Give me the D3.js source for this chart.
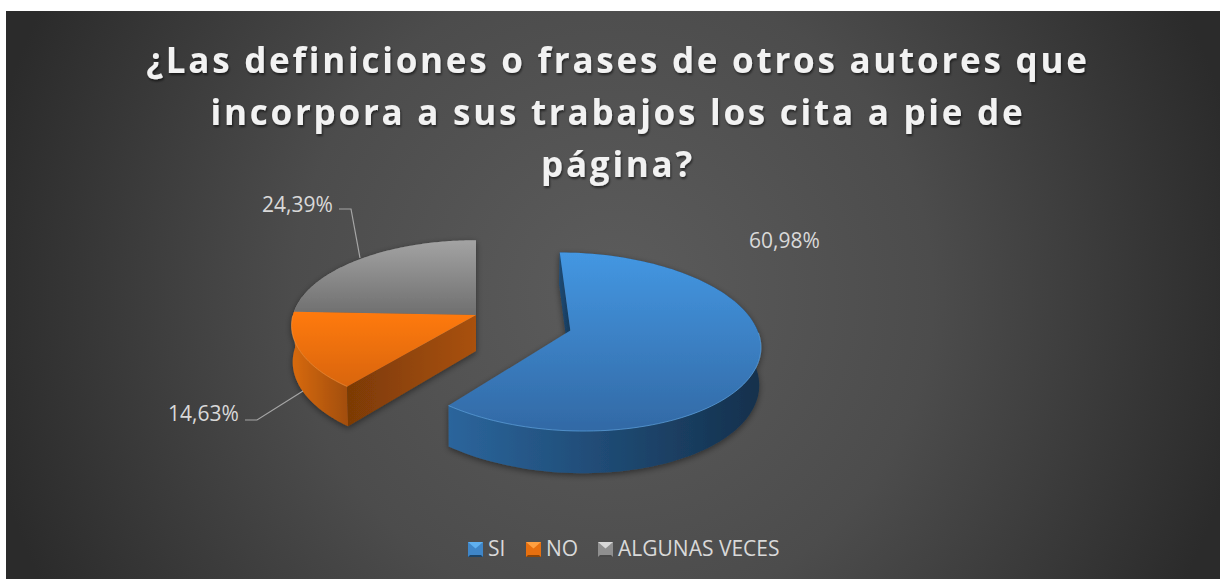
<!DOCTYPE html>
<html>
<head>
<meta charset="utf-8">
<script src="https://cdn.jsdelivr.net/npm/d3@7"></script>
<style>
  html, body { margin: 0; padding: 0; background: #fff; }
  svg { display: block; }
  text { font-family: "Open Sans", sans-serif; }
</style>
</head>
<body>
<svg id="chart"></svg>
<script>
const categories = ['SI', 'NO', 'ALGUNAS VECES'];
const values = [60.98, 14.63, 24.39];
const valueLabels = ['60,98%', '14,63%', '24,39%'];
const titleLines = [
  '¿Las definiciones o frases de otros autores que',
  'incorpora a sus trabajos los cita a pie de',
  'página?'
];

const width = 1220, height = 579;
const svg = d3.select('#chart').attr('width', width).attr('height', height);
const defs = svg.append('defs');

// colours per slice: top face, outer wall, cut face
const topColors = [['#4497e2', '#3269a5'], ['#ff7a10', '#d9650e'], ['#a3a3a3', '#717171']];
const sideColors = [['#2b659c', '#14304c'], ['#d86a10', '#a24e0a'], ['#8a8a8a', '#606060']];
const cutColors = [['#1d4a73', '#17395a'], ['#7c3a06', '#a9510a'], ['#707070', '#707070']];
const edgeColors = ['#62aeee', '#ff9a3c', '#b5b5b5'];

// background
const bg = defs.append('radialGradient').attr('id', 'bg')
  .attr('gradientUnits', 'userSpaceOnUse')
  .attr('cx', 613).attr('cy', 295).attr('r', 640);
bg.append('stop').attr('offset', 0).attr('stop-color', '#5c5c5c');
bg.append('stop').attr('offset', 0.5).attr('stop-color', '#4c4c4c');
bg.append('stop').attr('offset', 1).attr('stop-color', '#2b2b2b');
svg.append('rect').attr('x', 6).attr('y', 11)
  .attr('width', width - 6).attr('height', height - 11).attr('fill', 'url(#bg)');

const shadow = defs.append('filter').attr('id', 'shadow')
  .attr('x', '-10%').attr('y', '-10%').attr('width', '120%').attr('height', '125%');
shadow.append('feDropShadow').attr('dx', 0).attr('dy', 2).attr('stdDeviation', 3)
  .attr('flood-color', '#000').attr('flood-opacity', 0.45);
const textShadow = defs.append('filter').attr('id', 'textShadow')
  .attr('x', '-5%').attr('y', '-20%').attr('width', '110%').attr('height', '150%');
textShadow.append('feDropShadow').attr('dx', 1).attr('dy', 2).attr('stdDeviation', 1.2)
  .attr('flood-color', '#000').attr('flood-opacity', 0.55);

// perspective pie: angles from d3.pie, 0 = straight up, clockwise
const R = 183, tilt = 0.459, eye = 1488, depth = 36;
const cx = 476, cy = 315;
const explode = [98, 0, 0];
const arcs = d3.pie().sort(null)(values);

function project(wx, wv, z) {
  const s = 1 / (1 - wv / eye);
  const shrink = 1 - 0.006 * z / depth;
  return [cx + wx * s * shrink, cy + (tilt * wv + z) * s];
}
function offset(d, i) {
  const mid = (d.startAngle + d.endAngle) / 2;
  return [explode[i] * Math.sin(mid), -explode[i] * Math.cos(mid)];
}
function rimPoint(d, i, a, z) {
  const o = offset(d, i);
  return project(o[0] + R * Math.sin(a), o[1] - R * Math.cos(a), z);
}
function apex(d, i, z) {
  const o = offset(d, i);
  return project(o[0], o[1], z);
}
function rim(d, i, z) {
  return d3.range(0, 121).map(t => {
    const a = d.startAngle + (d.endAngle - d.startAngle) * t / 120;
    return rimPoint(d, i, a, z);
  });
}
const line = d3.line();

function gradient(id, colors, x1, y1, x2, y2) {
  const g = defs.append('linearGradient').attr('id', id)
    .attr('gradientUnits', 'userSpaceOnUse')
    .attr('x1', x1).attr('y1', y1).attr('x2', x2).attr('y2', y2);
  g.append('stop').attr('offset', 0).attr('stop-color', colors[0]);
  g.append('stop').attr('offset', 1).attr('stop-color', colors[1]);
}

// draw back-to-front: gray, orange, then blue
const pie = svg.append('g').attr('filter', 'url(#shadow)');
[2, 1, 0].forEach(i => {
  const d = arcs[i];
  const top = rim(d, i, 0), bottom = rim(d, i, depth);
  const xs = top.map(p => p[0]), ys = top.map(p => p[1]);
  const xMin = d3.min(xs), xMax = d3.max(xs), yMin = d3.min(ys), yMax = d3.max(ys);
  gradient('top' + i, topColors[i], 0, yMin, 0, yMax);
  gradient('side' + i, sideColors[i], xMin, 0, xMax, 0);

  // cut face on the start side of each slice
  const a0 = apex(d, i, 0), a1 = apex(d, i, depth);
  const r0 = rimPoint(d, i, d.startAngle, 0), r1 = rimPoint(d, i, d.startAngle, depth);
  gradient('cut' + i, cutColors[i], r0[0], 0, a0[0], 0);

  pie.append('path')
    .attr('d', line(top.concat(bottom.slice().reverse())) + 'Z')
    .attr('fill', `url(#side${i})`);
  pie.append('path')
    .attr('d', line([a0, r0, r1, a1]) + 'Z')
    .attr('fill', `url(#cut${i})`);
  pie.append('path')
    .attr('d', line([a0].concat(top)) + 'Z')
    .attr('fill', `url(#top${i})`);
  // bevel highlight, only where the rim faces the viewer
  pie.append('path')
    .attr('d', line(top.filter((p, k) => {
      const a = d.startAngle + (d.endAngle - d.startAngle) * k / 120;
      return Math.cos(a) < 0;
    })))
    .attr('fill', 'none')
    .attr('stroke', edgeColors[i])
    .attr('stroke-width', 1)
    .attr('stroke-opacity', 0.6);
});

// title
svg.append('g').attr('filter', 'url(#textShadow)')
  .selectAll('text').data(titleLines).enter().append('text')
  .attr('x', 618)
  .attr('y', (d, i) => 73 + i * 52)
  .attr('text-anchor', 'middle')
  .attr('font-size', 35)
  .attr('font-weight', 700)
  .attr('letter-spacing', 2.75)
  .attr('fill', '#f2f2f2')
  .text(d => d);

// data labels and leaders
const labelPos = [[749, 248], [168, 421], [262, 212]];
const leaders = [null, [[245, 420], [257, 420], [303, 391]], [[339, 209], [351, 209], [360, 258]]];
svg.append('g').selectAll('path').data(leaders.filter(d => d)).enter().append('path')
  .attr('d', d => line(d))
  .attr('fill', 'none')
  .attr('stroke', '#a6a6a6')
  .attr('stroke-width', 1.2);
svg.append('g').selectAll('text').data(valueLabels).enter().append('text')
  .attr('x', (d, i) => labelPos[i][0])
  .attr('y', (d, i) => labelPos[i][1])
  .attr('font-size', 21)
  .attr('fill', '#d9d9d9')
  .text(d => d);

// legend
const legendX = [468, 526, 598];
const legendColors = ['#3f86c8', '#e8700f', '#8f8f8f'];
const swatchLight = ['#5fb0f0', '#ffa040', '#d8d8d8'];
const swatchDark = ['#1c4468', '#8c4507', '#4a4a4a'];
const legend = svg.append('g').selectAll('g').data(categories).enter().append('g')
  .attr('transform', (d, i) => `translate(${legendX[i]},542)`);
const sw = 15;
legend.append('rect').attr('width', sw).attr('height', sw)
  .attr('fill', (d, i) => legendColors[i]);
legend.append('path').attr('d', line([[0, 0], [sw, 0], [sw / 2, sw / 2 - 1]]) + 'Z')
  .attr('fill', (d, i) => swatchLight[i]);
legend.append('path').attr('d', line([[0, sw], [sw, sw], [sw - 2, sw - 2], [2, sw - 2]]) + 'Z')
  .attr('fill', (d, i) => swatchDark[i]);
legend.append('text')
  .attr('x', 20)
  .attr('y', 14)
  .attr('font-size', 21)
  .attr('fill', '#d9d9d9')
  .text(d => d);
</script>
</body>
</html>
